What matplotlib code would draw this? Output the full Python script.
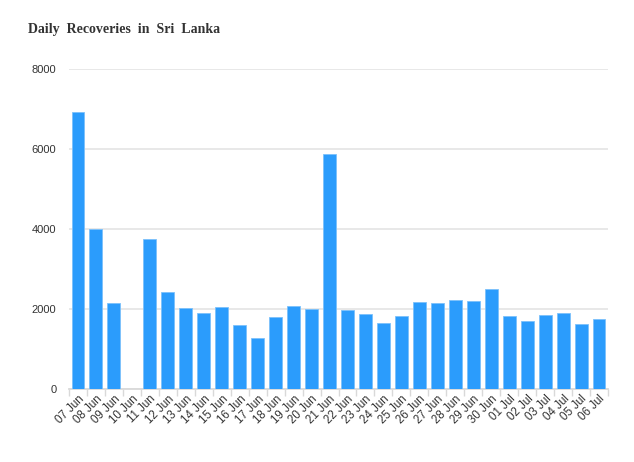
import numpy as np
import matplotlib.pyplot as plt
from matplotlib.ticker import FixedLocator

# --- Data ---
dates = ["07 Jun", "08 Jun", "09 Jun", "10 Jun", "11 Jun", "12 Jun", "13 Jun", "14 Jun",
         "15 Jun", "16 Jun", "17 Jun", "18 Jun", "19 Jun", "20 Jun", "21 Jun", "22 Jun",
         "23 Jun", "24 Jun", "25 Jun", "26 Jun", "27 Jun", "28 Jun", "29 Jun", "30 Jun",
         "01 Jul", "02 Jul", "03 Jul", "04 Jul", "05 Jul", "06 Jul"]
recoveries = [6930, 3990, 2150, 0, 3750, 2420, 2020, 1900,
              2050, 1590, 1275, 1810, 2070, 1990, 5880, 1975,
              1875, 1640, 1825, 2165, 2150, 2235, 2200, 2510,
              1825, 1690, 1840, 1900, 1620, 1740]
yticks = [0, 2000, 4000, 6000, 8000]

# --- Plot ---
fig = plt.figure(figsize=(6.34, 4.62), dpi=100)
ax = fig.add_axes([69 / 634, 1 - 389 / 462, 539 / 634, 320 / 462])

x = np.arange(len(dates))
ax.bar(x, recoveries, width=0.72, color="#2b9cfc", edgecolor="#7cc1fb",
       linewidth=0.6, zorder=3)

ax.set_xlim(-0.5, len(dates) - 0.5)
ax.set_ylim(0, 8000)
ax.set_yticks(yticks)
ax.set_yticklabels([str(v) for v in yticks], fontsize=8, color="#333333",
                   family="Liberation Sans")
ax.tick_params(axis="y", length=0, pad=9)
ax.grid(axis="y", color="#e6e6e6", linewidth=1.3, zorder=0)

ax.set_xticks(x)
ax.set_xticklabels(dates, rotation=45, ha="right", rotation_mode="anchor",
                   fontsize=8.3, color="#333333", family="Liberation Sans")
ax.tick_params(axis="x", which="major", length=0, pad=3)
ax.xaxis.set_minor_locator(FixedLocator(np.arange(-0.5, len(dates), 1.0)))
ax.tick_params(axis="x", which="minor", length=5, color="#d9d9d9", width=1)

for s in ["top", "right", "left"]:
    ax.spines[s].set_visible(False)
ax.spines["bottom"].set_color("#d9d9d9")
ax.spines["bottom"].set_linewidth(1.3)

fig.text(28 / 634, 1 - 30 / 462, "Daily  Recoveries  in  Sri  Lanka",
         fontsize=10, fontweight="bold", family="Liberation Serif",
         color="#333333", va="center", ha="left")

fig.savefig("out.png", dpi=100)
